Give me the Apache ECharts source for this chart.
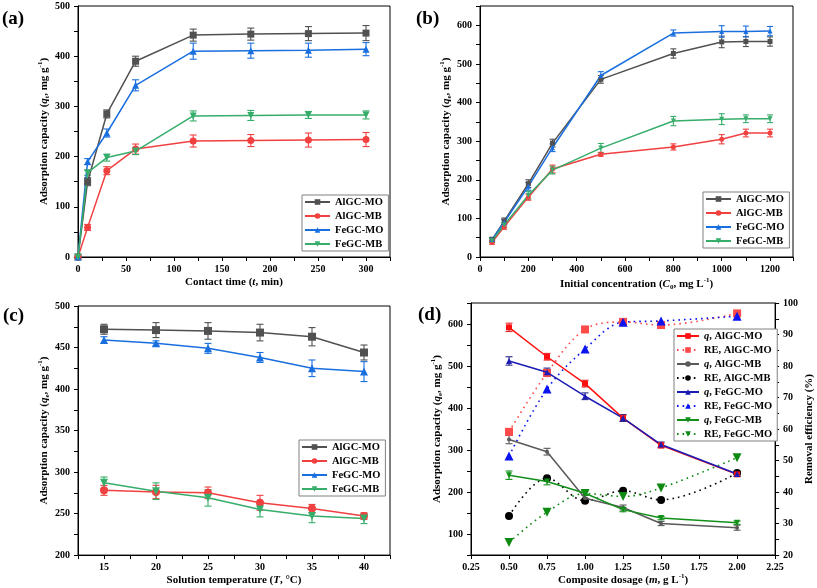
<!DOCTYPE html>
<html>
<head>
<meta charset="utf-8">
<script src="https://cdn.jsdelivr.net/npm/echarts@6/dist/echarts.min.js"></script>
<style>
html,body{margin:0;padding:0;background:#fff;}
#chart{width:817px;height:588px;}
</style>
</head>
<body>
<div id="chart"></div>
<script>
// ---------- Panel (a): contact time ----------
const tA = [0, 10, 30, 60, 120, 180, 240, 300];
const aAlMO = [0, 150, 285, 390, 442, 444, 445, 446];
const aAlMOe = [0, 8, 8, 10, 12, 12, 14, 15];
const aAlMB = [0, 59, 172, 215, 231, 232, 233, 234];
const aAlMBe = [0, 6, 8, 10, 12, 12, 14, 14];
const aFeMO = [0, 190, 247, 342, 410, 411, 412, 414];
const aFeMOe = [0, 6, 8, 11, 16, 15, 14, 13];
const aFeMB = [0, 168, 198, 211, 281, 282, 283, 283];
const aFeMBe = [0, 5, 7, 7, 10, 10, 7, 8];

// ---------- Panel (b): initial concentration ----------
const cB = [50, 100, 200, 300, 500, 800, 1000, 1100, 1200];
const bAlMO = [45, 93, 190, 295, 460, 527, 557, 558, 558];
const bAlMOe = [6, 8, 10, 10, 10, 12, 15, 13, 12];
const bAlMB = [38, 78, 155, 228, 266, 285, 305, 321, 321];
const bAlMBe = [5, 6, 8, 10, 5, 8, 12, 10, 10];
const bFeMO = [45, 90, 183, 283, 470, 580, 584, 584, 585];
const bFeMOe = [5, 7, 10, 10, 10, 8, 15, 14, 12];
const bFeMB = [42, 83, 160, 225, 282, 352, 357, 358, 358];
const bFeMBe = [5, 6, 10, 10, 12, 12, 14, 10, 10];

// ---------- Panel (c): temperature ----------
const tC = [15, 20, 25, 30, 35, 40];
const cAlMO = [472, 471, 470, 468, 463, 444];
const cAlMOe = [6, 9, 10, 10, 11, 9];
const cAlMB = [278, 276, 275, 263, 256, 247];
const cAlMBe = [6, 8, 7, 9, 5, 4];
const cFeMO = [459, 455, 449, 438, 425, 421];
const cFeMOe = [4, 3, 6, 6, 10, 12];
const cFeMB = [287, 277, 269, 255, 247, 244];
const cFeMBe = [7, 10, 10, 9, 8, 6];

// ---------- Panel (d): dosage ----------
const mD = [0.5, 0.75, 1.0, 1.25, 1.5, 2.0];
const qAlMO = [592, 522, 458, 376, 311, 242];
const qAlMOe = [10, 8, 8, 8, 6, 5];
const reAlMO = [59.1, 77.8, 91.6, 94.0, 93.0, 96.7];
const qAlMB = [325, 296, 185, 163, 125, 115];
const qAlMBe = [10, 8, 8, 6, 5, 6];
const reAlMB = [32.4, 44.4, 37.2, 40.4, 37.5, 46.0];
const qFeMO = [512, 485, 428, 376, 313, 243];
const qFeMOe = [10, 10, 8, 8, 6, 6];
const reFeMO = [51.4, 72.7, 85.4, 93.9, 94.3, 95.8];
const qFeMB = [240, 225, 197, 158, 138, 127];
const qFeMBe = [10, 8, 5, 5, 4, 4];
const reFeMB = [24.0, 33.6, 39.5, 38.6, 41.3, 50.9];

const legABC = ['AlGC-MO', 'AlGC-MB', 'FeGC-MO', 'FeGC-MB'];
const legD = ['q, AlGC-MO', 'RE, AlGC-MO', 'q, AlGC-MB', 'RE, AlGC-MB', 'q, FeGC-MO', 'RE, FeGC-MO', 'q, FeGC-MB', 'RE, FeGC-MB'];

// ---------- styling ----------
const FF = "'Liberation Serif','Times New Roman','DejaVu Serif',serif";
const C_BLK = '#515151', C_RED = '#F14040', C_BLU = '#1A6FDF', C_GRN = '#37AD6B';

const nameRich = {
  i: {fontFamily: FF, fontWeight: 'bold', fontStyle: 'italic', fontSize: 11, color: '#000', lineHeight: 14},
  sub: {fontFamily: FF, fontWeight: 'bold', fontSize: 7, color: '#000', verticalAlign: 'bottom', lineHeight: 14},
  sup: {fontFamily: FF, fontWeight: 'bold', fontSize: 7, color: '#000', verticalAlign: 'top', lineHeight: 14},
  n: {fontFamily: FF, fontWeight: 'bold', fontSize: 11, color: '#000', lineHeight: 14}
};
function nameStyle() {
  return {fontFamily: FF, fontWeight: 'bold', fontSize: 11, color: '#000', lineHeight: 14, rich: nameRich};
}
function pts(xs, ys) { return xs.map((x, i) => [x, ys[i]]); }
function errs(xs, ys, es) { return xs.map((x, i) => [x, ys[i] - es[i], ys[i] + es[i]]); }
function mult(v, step) { return Math.abs(v / step - Math.round(v / step)) < 1e-6; }

function axis(opt) {
  const o = {
    type: 'value', gridIndex: opt.grid, min: opt.min, max: opt.max, interval: opt.interval,
    position: opt.position,
    name: opt.name, nameLocation: 'middle', nameGap: opt.nameGap, nameRotate: opt.nameRotate,
    nameTextStyle: nameStyle(),
    axisLine: {show: true, onZero: false, lineStyle: {color: '#000', width: 1}},
    axisTick: {show: true, inside: false, length: 4, lineStyle: {color: '#000', width: 1}},
    axisLabel: {
      show: true, margin: opt.margin || 7, fontFamily: FF, fontWeight: 'bold', fontSize: 10, color: '#000',
      formatter: opt.fmt, showMinLabel: true, showMaxLabel: true
    },
    splitLine: {show: false}
  };
  return o;
}

function lineSeries(name, xi, yi, data, color, symbol, size, extra) {
  const s = {
    type: 'line', name: name, xAxisIndex: xi, yAxisIndex: yi, data: data,
    symbol: symbol, symbolSize: size, showSymbol: true,
    lineStyle: {color: color, width: 1.5},
    itemStyle: {color: color},
    z: 4
  };
  if (symbol === 'triangleDown') { s.symbol = 'triangle'; s.symbolRotate = 180; }
  return Object.assign(s, extra || {});
}
function errSeries(xi, yi, data, color, cap) {
  return {
    type: 'custom', name: 'err', xAxisIndex: xi, yAxisIndex: yi, data: data, silent: true, z: 3,
    encode: {x: 0, y: [1, 2]},
    renderItem: function (params, api) {
      const x = api.value(0), lo = api.value(1), hi = api.value(2);
      if (!(hi - lo > 0)) return null;
      const p1 = api.coord([x, lo]), p2 = api.coord([x, hi]);
      const st = {stroke: color, lineWidth: 1.1, fill: null};
      return {type: 'group', children: [
        {type: 'line', shape: {x1: p1[0], y1: p1[1], x2: p2[0], y2: p2[1]}, style: st},
        {type: 'line', shape: {x1: p1[0] - cap, y1: p1[1], x2: p1[0] + cap, y2: p1[1]}, style: st},
        {type: 'line', shape: {x1: p2[0] - cap, y1: p2[1], x2: p2[0] + cap, y2: p2[1]}, style: st}
      ]};
    }
  };
}

const series = [];
function addPanel(xi, yi, xs, sets, size, cap) {
  sets.forEach(s => {
    series.push(errSeries(xi, yi, errs(xs, s.y, s.e), s.c, cap));
    series.push(lineSeries(s.n, xi, yi, pts(xs, s.y), s.c, s.sym, size));
  });
}
addPanel(0, 0, tA, [
  {n: 'AlGC-MO', y: aAlMO, e: aAlMOe, c: C_BLK, sym: 'rect'},
  {n: 'AlGC-MB', y: aAlMB, e: aAlMBe, c: C_RED, sym: 'circle'},
  {n: 'FeGC-MO', y: aFeMO, e: aFeMOe, c: C_BLU, sym: 'triangle'},
  {n: 'FeGC-MB', y: aFeMB, e: aFeMBe, c: C_GRN, sym: 'triangleDown'}
], 7, 3.5);
addPanel(1, 1, cB, [
  {n: 'AlGC-MO', y: bAlMO, e: bAlMOe, c: C_BLK, sym: 'rect'},
  {n: 'AlGC-MB', y: bAlMB, e: bAlMBe, c: C_RED, sym: 'circle'},
  {n: 'FeGC-MO', y: bFeMO, e: bFeMOe, c: C_BLU, sym: 'triangle'},
  {n: 'FeGC-MB', y: bFeMB, e: bFeMBe, c: C_GRN, sym: 'triangleDown'}
], 5, 3);
addPanel(2, 2, tC, [
  {n: 'AlGC-MO', y: cAlMO, e: cAlMOe, c: C_BLK, sym: 'rect'},
  {n: 'AlGC-MB', y: cAlMB, e: cAlMBe, c: C_RED, sym: 'circle'},
  {n: 'FeGC-MO', y: cFeMO, e: cFeMOe, c: C_BLU, sym: 'triangle'},
  {n: 'FeGC-MB', y: cFeMB, e: cFeMBe, c: C_GRN, sym: 'triangleDown'}
], 8, 3.5);

// panel (d)
const RE_DASH = [1.6, 4];
const dq = [
  {n: 'q, AlGC-MO', y: qAlMO, e: qAlMOe, c: '#FF1010', ec: '#E03030', sym: 'rect', sz: 6},
  {n: 'q, AlGC-MB', y: qAlMB, e: qAlMBe, c: '#5A5A5A', ec: '#5A5A5A', sym: 'circle', sz: 4},
  {n: 'q, FeGC-MO', y: qFeMO, e: qFeMOe, c: '#1C1CB4', ec: '#2A2A8A', sym: 'triangle', sz: 6},
  {n: 'q, FeGC-MB', y: qFeMB, e: qFeMBe, c: '#12901A', ec: '#12901A', sym: 'triangleDown', sz: 6}
];
const dr = [
  {n: 'RE, AlGC-MO', y: reAlMO, c: '#FF4A4A', sym: 'rect', sz: 8},
  {n: 'RE, AlGC-MB', y: reAlMB, c: '#000000', sym: 'circle', sz: 8},
  {n: 'RE, FeGC-MO', y: reFeMO, c: '#0A14F0', sym: 'triangle', sz: 9},
  {n: 'RE, FeGC-MB', y: reFeMB, c: '#0E8A12', sym: 'triangleDown', sz: 9}
];
dr.forEach(s => {
  series.push(lineSeries(s.n, 3, 4, pts(mD, s.y), s.c, s.sym, s.sz, {
    smooth: 0.35, lineStyle: {color: s.c, width: 1.6, type: RE_DASH}, z: 3
  }));
});
dq.forEach(s => {
  series.push(errSeries(3, 3, errs(mD, s.y, s.e), s.ec, 3.5));
  series.push(lineSeries(s.n, 3, 3, pts(mD, s.y), s.c, s.sym, s.sz, {z: 5}));
});

const capName = 'Adsorption capacity ({i|q}{sub|e}, mg g{sup|-1})';
const xAxes = [
  axis({grid: 0, min: 0, max: 325, interval: 25, fmt: v => mult(v, 50) ? String(v) : '', name: 'Contact time ({i|t}, min)', nameGap: 18}),
  axis({grid: 1, min: 0, max: 1295, interval: 100, fmt: v => mult(v, 200) ? String(v) : '', name: 'Initial concentration ({i|C}{sub|0}, mg L{sup|-1})', nameGap: 20}),
  axis({grid: 2, min: 12.5, max: 42.5, interval: 2.5, fmt: v => mult(v, 5) ? String(Math.round(v)) : '', name: 'Solution temperature ({i|T}, °C)', nameGap: 17}),
  axis({grid: 3, min: 0.25, max: 2.25, interval: 0.25, fmt: v => v.toFixed(2), name: 'Composite dosage ({i|m}, g L{sup|-1})', nameGap: 17})
];
const yAxes = [
  axis({grid: 0, min: 0, max: 500, interval: 50, fmt: v => mult(v, 100) ? String(v) : '', name: 'Adsorption capacity ({i|q}{sub|t}, mg g{sup|-1})', nameGap: 22, margin: 8}),
  axis({grid: 1, min: 0, max: 650, interval: 50, fmt: v => mult(v, 100) ? String(v) : '', name: capName, nameGap: 22, margin: 8}),
  axis({grid: 2, min: 200, max: 500, interval: 25, fmt: v => mult(v, 50) ? String(v) : '', name: capName, nameGap: 22, margin: 8}),
  axis({grid: 3, min: 50, max: 650, interval: 50, fmt: v => mult(v, 100) ? String(v) : '', name: capName, nameGap: 24, margin: 8}),
  axis({grid: 3, min: 20, max: 100, interval: 5, position: 'right', fmt: v => mult(v, 10) ? String(v) : '', name: 'Removal efficiency (%)', nameGap: 25, nameRotate: 90, margin: 8})
];

function legend(left, top, data, iw, fmt) {
  return {
    orient: 'vertical', left: left, top: top, data: data, itemWidth: iw, itemHeight: 7, itemGap: 2,
    padding: [1, 5, 1, 2], borderColor: '#808080', borderWidth: 1, backgroundColor: '#fff',
    selectedMode: false, formatter: fmt,
    textStyle: {fontFamily: FF, fontWeight: 'bold', fontSize: 10.5, color: '#000', lineHeight: 12,
      rich: {i: {fontFamily: FF, fontWeight: 'bold', fontStyle: 'italic', fontSize: 10.5, color: '#000', lineHeight: 12},
             t: {fontFamily: FF, fontWeight: 'bold', fontSize: 10.5, color: '#000', lineHeight: 12}}}
  };
}
const fmtD = function (name) {
  let disp = name === 'RE, FeGC-MB' ? 'RE, FeGC-MO' : name;
  if (disp.indexOf('q,') === 0) return '{i|q}{t|' + disp.slice(1) + '}';
  return disp;
};

function panelLabel(txt, x, y) {
  return {type: 'text', left: x, top: y, style: {text: txt, fontFamily: FF, fontWeight: 'bold', fontSize: 19, fill: '#000'}};
}

const option = {
  animation: false,
  backgroundColor: '#fff',
  grid: [
    {left: 78, top: 6, width: 312, height: 251, show: true, borderColor: '#000', borderWidth: 1, backgroundColor: 'transparent'},
    {left: 480, top: 6, width: 313, height: 251, show: true, borderColor: '#000', borderWidth: 1, backgroundColor: 'transparent'},
    {left: 78, top: 306, width: 312, height: 251, show: true, borderColor: '#000', borderWidth: 1, backgroundColor: 'transparent'},
    {left: 471, top: 303, width: 313, height: 252, show: true, borderColor: '#000', borderWidth: 1, backgroundColor: 'transparent'}
  ],
  xAxis: xAxes,
  yAxis: yAxes,
  legend: [
    legend(302, 195, legABC, 25),
    legend(703, 192, legABC, 25),
    legend(299, 440, legABC, 25),
    legend(674, 329, legD, 22, fmtD)
  ],
  graphic: [
    panelLabel('(a)', 2, 10),
    panelLabel('(b)', 416, 10),
    panelLabel('(c)', 3, 307),
    panelLabel('(d)', 418, 306)
  ],
  series: series
};

const chart = echarts.init(document.getElementById('chart'));
chart.setOption(option);
</script>
</body>
</html>
